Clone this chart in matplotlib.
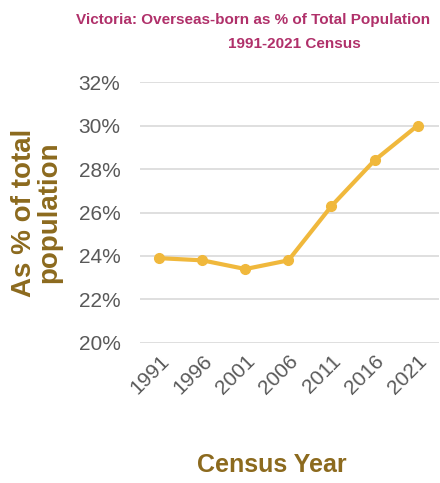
import matplotlib
matplotlib.use("Agg")
import matplotlib.pyplot as plt
from matplotlib.ticker import FuncFormatter

years = ["1991", "1996", "2001", "2006", "2011", "2016", "2021"]
pct_overseas = [23.9, 23.8, 23.4, 23.8, 26.3, 28.4, 30.0]
yticks = [20, 22, 24, 26, 28, 30, 32]

plt.rcParams['font.family'] = ['Liberation Sans', 'DejaVu Sans']

fig = plt.figure(figsize=(4.4, 4.83), dpi=100)
ax = fig.add_axes([0.318, 0.290, 0.68, 0.540])

x = range(len(years))
ax.plot(x, pct_overseas, color="#F0B83C", lw=3, marker="o", ms=7, zorder=3)

ax.set_xlim(-0.45, len(years) - 0.5)
ax.set_ylim(20, 32)
ax.set_yticks(yticks)
ax.yaxis.set_major_formatter(FuncFormatter(lambda v, p: f"{v:.0f}%"))
ax.set_xticks(list(x))
ax.set_xticklabels(years, rotation=45, ha="right", rotation_mode="anchor")

ax.grid(axis="y", color="#d9d9d9", lw=1.2)
ax.set_axisbelow(True)
for s in ax.spines.values():
    s.set_visible(False)
ax.tick_params(length=0, labelsize=15, colors="#595959")
ax.tick_params(axis="y", pad=14)
ax.tick_params(axis="x", pad=6)

gold = "#8C6A1E"
ax.set_ylabel("As % of total\npopulation", fontsize=20, fontweight="bold",
              color=gold, linespacing=0.95, labelpad=12)
fig.text(0.618, 0.022, "Census Year", fontsize=18, fontweight="bold",
         color=gold, ha="center", va="baseline")

fig.text(0.575, 0.950, "Victoria: Overseas-born as % of Total Population",
         fontsize=11, fontweight="bold", color="#B0306A", ha="center")
fig.text(0.668, 0.900, "1991-2021 Census",
         fontsize=11, fontweight="bold", color="#B0306A", ha="center")

fig.savefig("out.png", dpi=100)
